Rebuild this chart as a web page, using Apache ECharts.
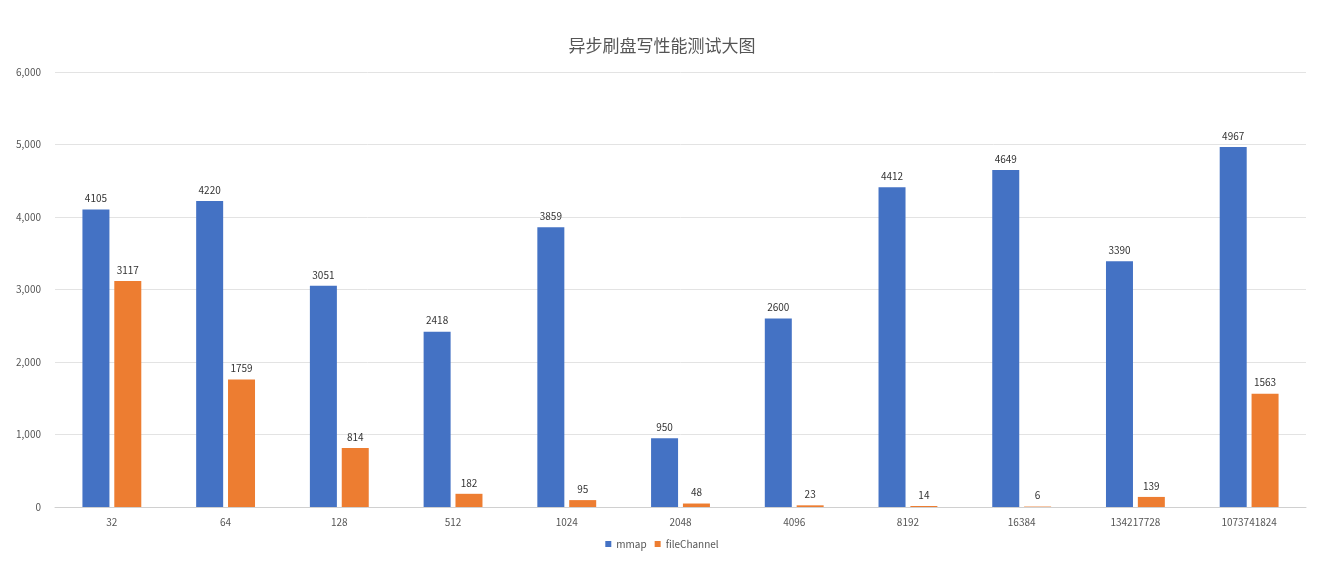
<!DOCTYPE html>
<html>
<head>
<meta charset="utf-8">
<script src="https://cdn.jsdelivr.net/npm/echarts@6/dist/echarts.min.js"></script>
<style>
  html, body { margin: 0; padding: 0; background: #fff; }
  #chart { width: 1324px; height: 568px; }
</style>
</head>
<body>
<div id="chart"></div>
<script>
var categories = ['32', '64', '128', '512', '1024', '2048', '4096', '8192', '16384', '134217728', '1073741824'];
var mmapValues = [4105, 4220, 3051, 2418, 3859, 950, 2600, 4412, 4649, 3390, 4967];
var fileChannelValues = [3117, 1759, 814, 182, 95, 48, 23, 14, 6, 139, 1563];

var chart = echarts.init(document.getElementById('chart'));

var labelStyle = {
    show: true,
    position: 'top',
    distance: 6,
    fontSize: 10,
    color: '#333'
};

chart.setOption({
    animation: false,
    textStyle: { fontFamily: '"Noto Sans CJK SC", "Noto Sans", sans-serif' },
    title: {
        text: '异步刷盘写性能测试大图',
        left: 'center',
        top: 32,
        textStyle: { fontSize: 17, fontWeight: 'normal', color: '#555' }
    },
    legend: {
        bottom: 14,
        left: 'center',
        itemWidth: 6,
        itemHeight: 6,
        itemGap: 8,
        icon: 'rect',
        textStyle: { fontSize: 10, color: '#555' },
        data: ['mmap', 'fileChannel']
    },
    grid: { left: 55, right: 18, top: 72, bottom: 61, containLabel: false },
    xAxis: {
        type: 'category',
        data: categories,
        axisTick: { show: false },
        axisLine: { lineStyle: { color: '#d0d0d0' } },
        axisLabel: { fontSize: 10, color: '#555', margin: 10 }
    },
    yAxis: {
        type: 'value',
        min: 0,
        max: 6000,
        interval: 1000,
        axisLine: { show: false },
        axisTick: { show: false },
        axisLabel: { fontSize: 10, color: '#555', margin: 14 },
        splitLine: { lineStyle: { color: '#e3e3e3' } }
    },
    series: [
        {
            name: 'mmap',
            type: 'bar',
            data: mmapValues,
            barWidth: 27,
            barGap: '18%',
            itemStyle: { color: '#4472C4' },
            label: labelStyle
        },
        {
            name: 'fileChannel',
            type: 'bar',
            data: fileChannelValues,
            barWidth: 27,
            itemStyle: { color: '#ED7D31' },
            label: labelStyle
        }
    ]
});
</script>
</body>
</html>
